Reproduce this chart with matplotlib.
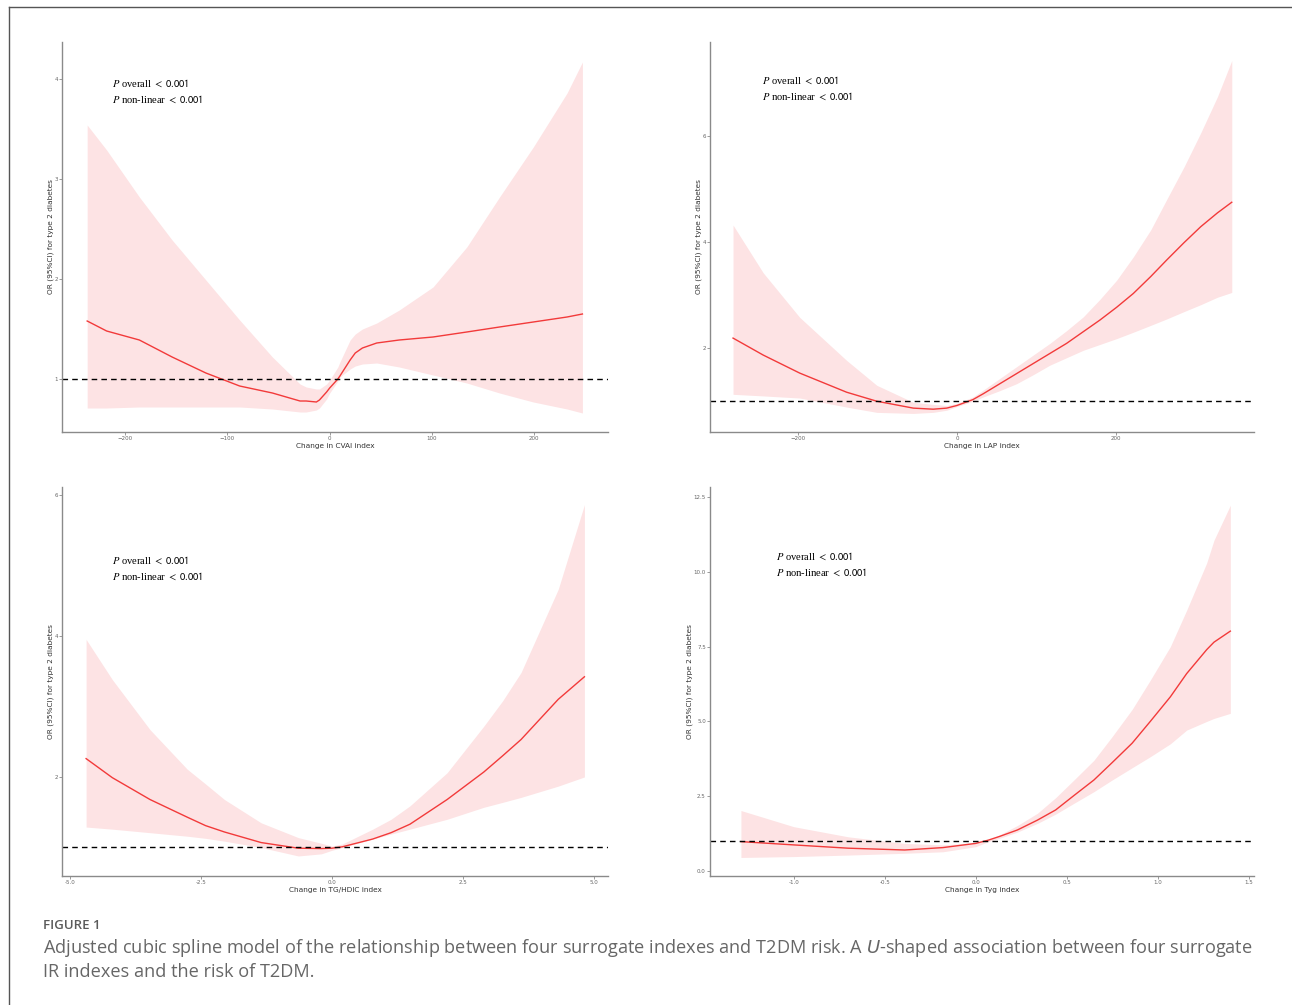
import numpy as np
import matplotlib.pyplot as plt
from matplotlib.lines import Line2D

plt.rcParams['mathtext.fontset'] = 'stix'

# ---- CVAI (top left)
cvai_x = [-237, -218, -186, -154, -121, -88, -56, -29, -23, -13, -10, -3, 0, 8, 10, 20, 25, 32, 46, 68, 101, 134, 166, 199, 232, 247]
cvai_or = [1.58, 1.48, 1.39, 1.22, 1.06, 0.93, 0.86, 0.78, 0.78, 0.77, 0.79, 0.87, 0.91, 1.00, 1.03, 1.19, 1.26, 1.31, 1.36, 1.39, 1.42, 1.47, 1.52, 1.57, 1.62, 1.65]
cvai_lo = [0.71, 0.71, 0.72, 0.72, 0.72, 0.72, 0.70, 0.67, 0.67, 0.69, 0.71, 0.80, 0.86, 0.98, 1.02, 1.10, 1.13, 1.15, 1.16, 1.12, 1.04, 0.96, 0.86, 0.77, 0.70, 0.66]
cvai_hi = [3.54, 3.29, 2.82, 2.39, 1.99, 1.59, 1.22, 0.95, 0.92, 0.90, 0.90, 0.95, 0.99, 1.12, 1.17, 1.39, 1.45, 1.50, 1.56, 1.69, 1.92, 2.32, 2.82, 3.32, 3.86, 4.17]

# ---- LAP (top right)
lap_x = [-282, -244, -198, -139, -101, -55, -30, -13, 0, 20, 33, 54, 75, 96, 117, 138, 159, 180, 201, 222, 244, 264, 286, 307, 328, 346]
lap_or = [2.19, 1.87, 1.53, 1.17, 1.00, 0.87, 0.85, 0.87, 0.92, 1.03, 1.14, 1.33, 1.52, 1.71, 1.90, 2.09, 2.31, 2.53, 2.77, 3.03, 3.35, 3.66, 3.99, 4.29, 4.55, 4.75]
lap_lo = [1.13, 1.10, 1.06, 0.89, 0.79, 0.77, 0.79, 0.83, 0.90, 1.00, 1.08, 1.20, 1.33, 1.50, 1.68, 1.82, 1.96, 2.07, 2.18, 2.30, 2.43, 2.55, 2.69, 2.82, 2.96, 3.05]
lap_hi = [4.32, 3.42, 2.58, 1.77, 1.30, 0.98, 0.94, 0.92, 0.96, 1.08, 1.21, 1.43, 1.65, 1.87, 2.09, 2.33, 2.59, 2.92, 3.28, 3.72, 4.23, 4.80, 5.42, 6.06, 6.74, 7.42]

# ---- TG/HDLC (bottom left)
tg_x = [-4.69, -4.19, -3.47, -2.76, -2.41, -2.05, -1.35, -0.64, -0.2, 0.0, 0.2, 0.78, 1.13, 1.49, 2.2, 2.9, 3.26, 3.61, 4.32, 4.82]
tg_or = [2.26, 1.99, 1.68, 1.43, 1.31, 1.22, 1.07, 0.99, 0.985, 0.99, 1.01, 1.12, 1.21, 1.33, 1.68, 2.07, 2.30, 2.53, 3.10, 3.42]
tg_lo = [1.29, 1.26, 1.21, 1.16, 1.13, 1.09, 1.00, 0.88, 0.91, 0.96, 1.00, 1.12, 1.19, 1.26, 1.40, 1.57, 1.64, 1.71, 1.87, 2.00]
tg_hi = [3.95, 3.38, 2.67, 2.11, 1.90, 1.68, 1.35, 1.14, 1.06, 1.02, 1.05, 1.26, 1.40, 1.59, 2.06, 2.72, 3.08, 3.48, 4.66, 5.86]

# ---- TyG (bottom right)
tyg_x = [-1.29, -1.0, -0.70, -0.39, -0.18, 0.0, 0.07, 0.13, 0.23, 0.34, 0.44, 0.54, 0.65, 0.75, 0.86, 0.96, 1.07, 1.16, 1.27, 1.31, 1.40]
tyg_or = [0.98, 0.87, 0.76, 0.70, 0.78, 0.92, 1.03, 1.15, 1.37, 1.70, 2.04, 2.52, 3.04, 3.62, 4.27, 5.00, 5.82, 6.60, 7.40, 7.65, 8.02]
tyg_lo = [0.45, 0.48, 0.53, 0.59, 0.64, 0.81, 0.98, 1.09, 1.30, 1.59, 1.90, 2.26, 2.65, 3.04, 3.45, 3.82, 4.25, 4.71, 5.00, 5.10, 5.27]
tyg_hi = [2.02, 1.48, 1.14, 0.92, 0.87, 0.94, 1.05, 1.20, 1.52, 1.93, 2.45, 3.04, 3.70, 4.49, 5.40, 6.38, 7.50, 8.72, 10.30, 11.06, 12.23]

ylab = "OR (95%CI) for type 2 diabetes"

W, H = 1292, 1005
fig = plt.figure(figsize=(W / 100, H / 100), dpi=100)


def px_axes(l, r, t, b):
    return fig.add_axes([l / W, 1 - b / H, (r - l) / W, (b - t) / H])


panels = [
    dict(box=(62, 608, 42, 432), x=cvai_x, y=cvai_or, lo=cvai_lo, hi=cvai_hi,
         xlim=(-261.6, 272), ylim=(0.47, 4.37), xt=[-200, -100, 0, 100, 200], xtl=None,
         yt=[1, 2, 3, 4], ytl=None, xlab="Change in CVAI index", txt=(112, 83)),
    dict(box=(710, 1254, 42, 432), x=lap_x, y=lap_or, lo=lap_lo, hi=lap_hi,
         xlim=(-311, 374), ylim=(0.42, 7.77), xt=[-200, 0, 200], xtl=None,
         yt=[2, 4, 6], ytl=None, xlab="Change in LAP index", txt=(762, 80)),
    dict(box=(62, 608, 487, 876), x=tg_x, y=tg_or, lo=tg_lo, hi=tg_hi,
         xlim=(-5.15, 5.27), ylim=(0.596, 6.11), xt=[-5, -2.5, 0, 2.5, 5],
         xtl=["-5.0", "-2.5", "0.0", "2.5", "5.0"],
         yt=[2, 4, 6], ytl=None, xlab="Change in TG/HDIC index", txt=(112, 560)),
    dict(box=(710, 1254, 487, 876), x=tyg_x, y=tyg_or, lo=tyg_lo, hi=tyg_hi,
         xlim=(-1.46, 1.53), ylim=(-0.17, 12.84), xt=[-1, -0.5, 0, 0.5, 1, 1.5],
         xtl=["-1.0", "-0.5", "0.0", "0.5", "1.0", "1.5"],
         yt=[0, 2.5, 5, 7.5, 10, 12.5], ytl=["0.0", "2.5", "5.0", "7.5", "10.0", "12.5"],
         xlab="Change in Tyg index", txt=(776, 556)),
]

for p in panels:
    ax = px_axes(*p["box"])
    ax.fill_between(p["x"], p["lo"], p["hi"], color="#fde3e4", lw=0)
    ax.plot(p["x"], p["y"], color="#f23a3a", lw=1.0)
    ax.axhline(1, color="black", lw=1.0, ls=(0, (4, 3)))
    ax.set_xlim(*p["xlim"])
    ax.set_ylim(*p["ylim"])
    ax.set_xticks(p["xt"])
    if p["xtl"]:
        ax.set_xticklabels(p["xtl"])
    ax.set_yticks(p["yt"])
    if p["ytl"]:
        ax.set_yticklabels(p["ytl"])
    for s in ["top", "right"]:
        ax.spines[s].set_visible(False)
    for s in ["left", "bottom"]:
        ax.spines[s].set_color("#8a8a8a")
        ax.spines[s].set_linewidth(1.0)
    ax.tick_params(length=2, width=0.6, color="#8a8a8a", labelsize=4,
                   labelcolor="#666666", pad=1)
    ax.set_xlabel(p["xlab"], fontsize=5.3, color="#333333", labelpad=1)
    ax.set_ylabel(ylab, fontsize=5.3, color="#333333", labelpad=0.5)
    tx, ty = p["txt"]
    fig.text(tx / W, 1 - ty / H, r"$\mathit{P}$ overall $\mathsf{<\ 0.001}$",
             fontsize=7.6, family="Liberation Serif", va="center", ha="left")
    fig.text(tx / W, 1 - (ty + 16) / H, r"$\mathit{P}$ non-linear $\mathsf{<\ 0.001}$",
             fontsize=7.6, family="Liberation Serif", va="center", ha="left")

# frame round the figure
fig.add_artist(Line2D([9 / W, 9 / W], [0, 1 - 7 / H], color="#555555", lw=1.0))
fig.add_artist(Line2D([9 / W, 1], [1 - 7 / H, 1 - 7 / H], color="#555555", lw=1.0))

fig.text(43 / W, 1 - 925 / H, "FIGURE 1", fontsize=9.5, family="Open Sans",
         weight="semibold", color="#5a5a5a", va="center")
fig.text(43 / W, 1 - 948 / H,
         "Adjusted cubic spline model of the relationship between four surrogate indexes and T2DM risk. A $\\mathit{U}$-shaped association between four surrogate",
         fontsize=13.05, family="Open Sans", color="#666666", va="center",
         math_fontfamily="dejavusans")
fig.text(43 / W, 1 - 972 / H, "IR indexes and the risk of T2DM.",
         fontsize=13.05, family="Open Sans", color="#666666", va="center")

fig.savefig("out.png", dpi=100)
